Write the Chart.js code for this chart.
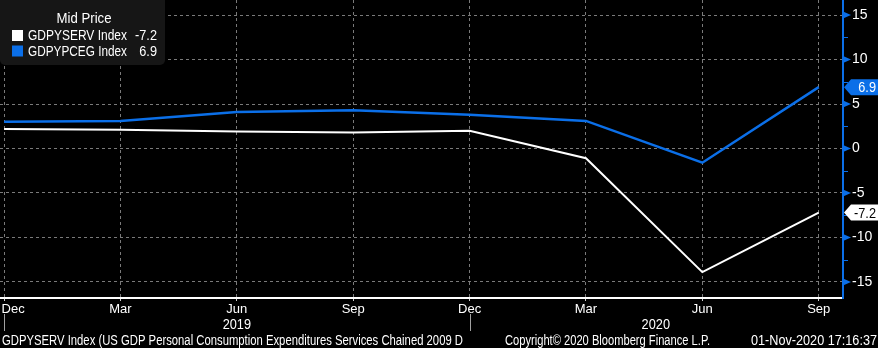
<!DOCTYPE html>
<html>
<head>
<meta charset="utf-8">
<script src="https://cdn.jsdelivr.net/npm/chart.js@4.4.1/dist/chart.umd.min.js"></script>
<style>
  html, body { margin: 0; padding: 0; background: #000; }
  #wrap { width: 878px; height: 348px; position: relative; }
</style>
</head>
<body>
<div id="wrap"><canvas id="c" width="878" height="348"></canvas></div>
<script>
// ---- data ----
const quarterLabels = ['Dec', 'Mar', 'Jun', 'Sep', 'Dec', 'Mar', 'Jun', 'Sep'];
const servicesValues = [2.2, 2.1, 1.9, 1.8, 2.0, -1.1, -13.9, -7.2];   // GDPYSERV Index
const goodsValues    = [3.0, 3.1, 4.1, 4.3, 3.8, 3.1, -1.6, 6.9];     // GDPYPCEG Index
const yTickValues = [-15, -10, -5, 0, 5, 10, 15];
const yearLabels = [{ text: '2019', from: 0, to: 4 }, { text: '2020', from: 4, to: 7.2 }];
const seriesNames = ['GDPYSERV Index', 'GDPYPCEG Index'];
const legendTitle = 'Mid Price';
const footerLeft = 'GDPYSERV Index (US GDP Personal Consumption Expenditures Services Chained 2009 D';
const footerMid = 'Copyright\u00A9 2020 Bloomberg Finance L.P.';
const footerRight = '01-Nov-2020 17:16:37';

const WHITE = '#ffffff';
const BLUE = '#0b6fe8';
const GRID = '#7a7a7a';
const FONT = "'Liberation Sans Narrow', 'Arial Narrow', 'Liberation Sans', Arial, sans-serif";

const toPts = arr => arr.map((v, i) => ({ x: i, y: v }));

// draw text squeezed horizontally (narrow terminal-like font)
function narrowText(ctx, str, x, y, align, sx, targetW) {
  const w = ctx.measureText(str).width;
  const s = targetW ? Math.min(1, targetW / w) : sx;
  const drawW = w * s;
  let left = x;
  if (align === 'center') left = x - drawW / 2;
  else if (align === 'right') left = x - drawW;
  ctx.save();
  ctx.textAlign = 'left';
  ctx.translate(left, y);
  ctx.scale(s, 1);
  ctx.fillText(str, 0, 0);
  ctx.restore();
}

function zeroPad(s) {
  s.paddingLeft = 0; s.paddingRight = 0; s.paddingTop = 0; s.paddingBottom = 0;
}

const decorPlugin = {
  id: 'decor',
  beforeDraw(chart) {
    const ctx = chart.ctx;
    ctx.save();
    ctx.fillStyle = '#000';
    ctx.fillRect(0, 0, chart.width, chart.height);
    ctx.restore();
  },
  afterDatasetsDraw(chart) {
    const ctx = chart.ctx;
    const ya = chart.scales.y, xa = chart.scales.x;
    const area = chart.chartArea;
    ctx.save();
    ctx.setLineDash([]);
    // axes lines
    ctx.lineWidth = 2;
    ctx.strokeStyle = WHITE;
    ctx.beginPath(); ctx.moveTo(area.left, area.bottom + 1); ctx.lineTo(area.right, area.bottom + 1); ctx.stroke();
    ctx.strokeStyle = BLUE;
    ctx.beginPath(); ctx.moveTo(area.right + 1, 0); ctx.lineTo(area.right + 1, area.bottom + 2); ctx.stroke();
    // right-axis tick markers
    ctx.fillStyle = BLUE;
    ctx.lineWidth = 1;
    for (let v = -15; v <= 15; v += 2.5) {
      const y = ya.getPixelForValue(v);
      if (v % 5 === 0) {
        ctx.beginPath();
        ctx.moveTo(area.right + 1, y - 3.5);
        ctx.lineTo(area.right + 9, y);
        ctx.lineTo(area.right + 1, y + 3.5);
        ctx.closePath(); ctx.fill();
      } else {
        ctx.beginPath(); ctx.moveTo(area.right + 1, Math.round(y) + 0.5); ctx.lineTo(area.right + 6, Math.round(y) + 0.5); ctx.stroke();
      }
    }
    // last-value flags
    const flags = [
      { v: goodsValues[goodsValues.length - 1], bg: BLUE, fg: WHITE },
      { v: servicesValues[servicesValues.length - 1], bg: WHITE, fg: '#000' }
    ];
    ctx.font = '15px ' + FONT;
    ctx.textBaseline = 'middle';
    flags.forEach(f => {
      const y = ya.getPixelForValue(f.v);
      const x0 = area.right + 2;
      ctx.fillStyle = f.bg;
      ctx.beginPath();
      ctx.moveTo(x0, y);
      ctx.lineTo(x0 + 7, y - 8);
      ctx.lineTo(878, y - 8);
      ctx.lineTo(878, y + 8);
      ctx.lineTo(x0 + 7, y + 8);
      ctx.closePath(); ctx.fill();
      ctx.fillStyle = f.fg;
      narrowText(ctx, f.v.toFixed(1), 876, y + 1, 'right', 0.85);
    });
    // year separators and labels
    ctx.strokeStyle = '#a0a0a0';
    ctx.lineWidth = 1;
    [0, 4].forEach(i => {
      const x = Math.round(xa.getPixelForValue(i)) + 0.5;
      ctx.beginPath(); ctx.moveTo(x, 314); ctx.lineTo(x, 331); ctx.stroke();
    });
    ctx.fillStyle = WHITE;
    ctx.font = '15px ' + FONT;
    yearLabels.forEach(yl => {
      const x = (xa.getPixelForValue(yl.from) + xa.getPixelForValue(yl.to)) / 2;
      narrowText(ctx, yl.text, x, 325, 'center', 0.85);
    });
    // footer
    ctx.font = '14px ' + FONT;
    narrowText(ctx, footerLeft, 2, 341, 'left', 1, 461);
    narrowText(ctx, footerMid, 505, 341, 'left', 1, 205);
    narrowText(ctx, footerRight, 877, 341, 'right', 1, 126);
    // legend box
    ctx.fillStyle = '#161616';
    ctx.beginPath();
    if (ctx.roundRect) ctx.roundRect(0, -5, 165, 70, 5); else ctx.rect(0, 0, 165, 65);
    ctx.fill();
    ctx.fillStyle = WHITE;
    ctx.font = '15px ' + FONT;
    narrowText(ctx, legendTitle, 84, 19, 'center', 1, 55);
    const rows = [
      { name: seriesNames[0], color: WHITE, val: servicesValues[servicesValues.length - 1] },
      { name: seriesNames[1], color: BLUE, val: goodsValues[goodsValues.length - 1] }
    ];
    rows.forEach((r, i) => {
      const cy = 36 + i * 15.5;
      ctx.fillStyle = r.color;
      ctx.fillRect(12, cy - 6, 11, 11);
      ctx.fillStyle = WHITE;
      narrowText(ctx, r.name, 28, cy, 'left', 1, 99);
      narrowText(ctx, r.val.toFixed(1), 157, cy, 'right', 0.85);
    });
    ctx.restore();
  }
};

new Chart(document.getElementById('c'), {
  type: 'line',
  data: {
    datasets: [
      { label: seriesNames[0], data: toPts(servicesValues), borderColor: WHITE, borderWidth: 2, pointRadius: 0, tension: 0 },
      { label: seriesNames[1], data: toPts(goodsValues), borderColor: BLUE, borderWidth: 2.5, pointRadius: 0, tension: 0 }
    ]
  },
  options: {
    responsive: false,
    animation: false,
    devicePixelRatio: 1,
    layout: { padding: 0, autoPadding: false },
    plugins: { legend: { display: false }, tooltip: { enabled: false } },
    scales: {
      x: {
        type: 'linear',
        bounds: 'data',
        min: -0.035,
        max: 7.2,
        afterBuildTicks: s => { s.ticks = quarterLabels.map((_, i) => ({ value: i })); },
        afterFit: s => { s.height = 51; zeroPad(s); },
        ticks: {
          color: WHITE,
          autoSkip: false,
          maxRotation: 0,
          padding: 1,
          font: { family: FONT, size: 13 },
          // first label sits against the left edge (kept inside the canvas)
          callback: (v) => v === 0 ? '     ' + quarterLabels[0] : (quarterLabels[v] ?? '')
        },
        grid: {
          color: GRID,
          lineWidth: 1,
          drawTicks: true,
          tickLength: 4,
          tickColor: '#cfcfcf',
          tickBorderDash: []
        },
        border: { display: false, dash: [3, 3] }
      },
      y: {
        position: 'right',
        bounds: 'data',
        min: -16.7,
        max: 16.7,
        afterBuildTicks: s => { s.ticks = yTickValues.map(v => ({ value: v })); },
        afterFit: s => { s.width = 36; zeroPad(s); },
        ticks: {
          color: WHITE,
          padding: 10,
          font: { family: FONT, size: 14 }
        },
        grid: { color: GRID, lineWidth: 1, drawTicks: false },
        border: { display: false, dash: [3, 3] }
      }
    }
  },
  plugins: [decorPlugin]
});
</script>
</body>
</html>
